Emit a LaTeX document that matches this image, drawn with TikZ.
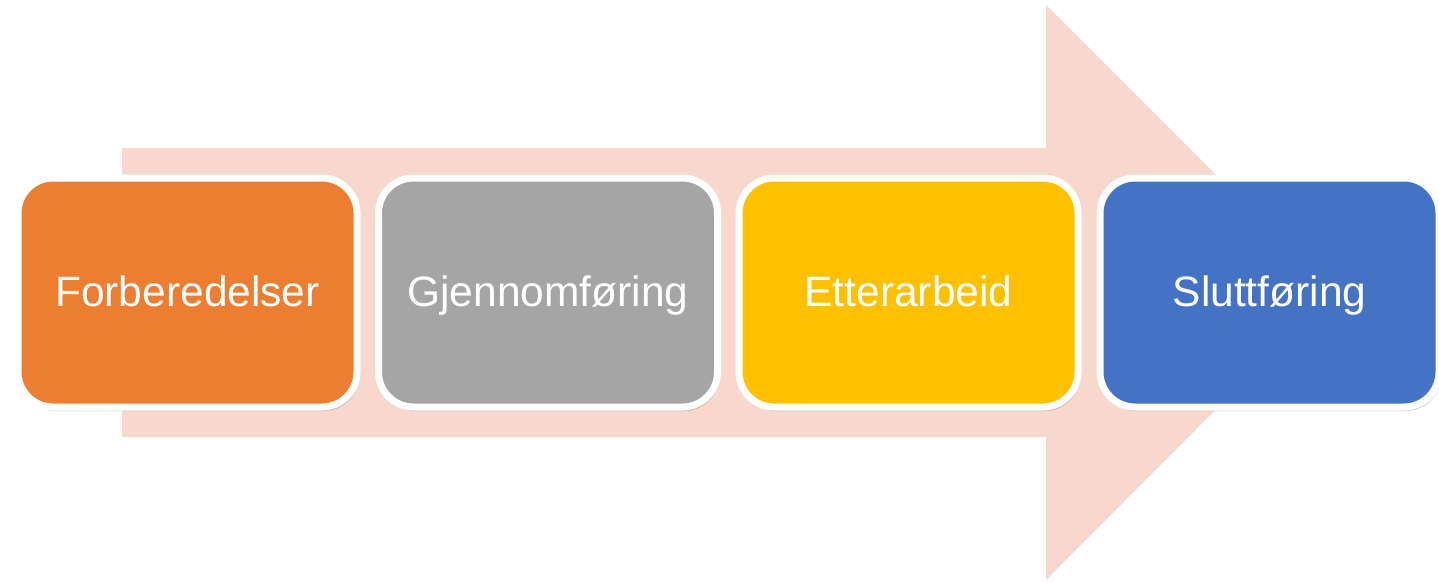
\documentclass[tikz,border=0pt]{standalone}
\usepackage{fontspec}
\setmainfont{Liberation Sans}
\usetikzlibrary{shadows}
\definecolor{pilfarge}{HTML}{F8D8CD}
\definecolor{oransje}{HTML}{ED7D31}
\definecolor{graa}{HTML}{A5A5A5}
\definecolor{gul}{HTML}{FFC000}
\definecolor{blaa}{HTML}{4472C4}
\tikzset{
	fase/.style={draw=white,line width=7pt,rounded corners=35pt,
		minimum width=339pt,minimum height=229pt,text=white,
		font=\fontsize{42.5}{50}\selectfont,text height=31pt,text depth=4pt,
		drop shadow={shadow xshift=2pt,shadow yshift=-4pt,opacity=0.3,fill=black!60}}
}
\begin{document}
\begin{tikzpicture}[x=1pt,y=-1pt]
	\useasboundingbox (0,0) rectangle (1439,583);
	% stor pil i bakgrunnen
	\fill[pilfarge] (122,148)--(1046,148)--(1046,5)--(1333,292)--(1046,580)--(1046,437)--(122,437)--cycle;
	\node[fase,fill=oransje] (forb) at (187.5,292.5){Forberedelser};
	\node[fase,fill=graa] (gjen) at (548,292.5){Gjennomføring};
	\node[fase,fill=gul] (etter) at (908.5,292.5){Etterarbeid};
	\node[fase,fill=blaa] (slutt) at (1269.5,292.5){Sluttføring};
\end{tikzpicture}
\end{document}
